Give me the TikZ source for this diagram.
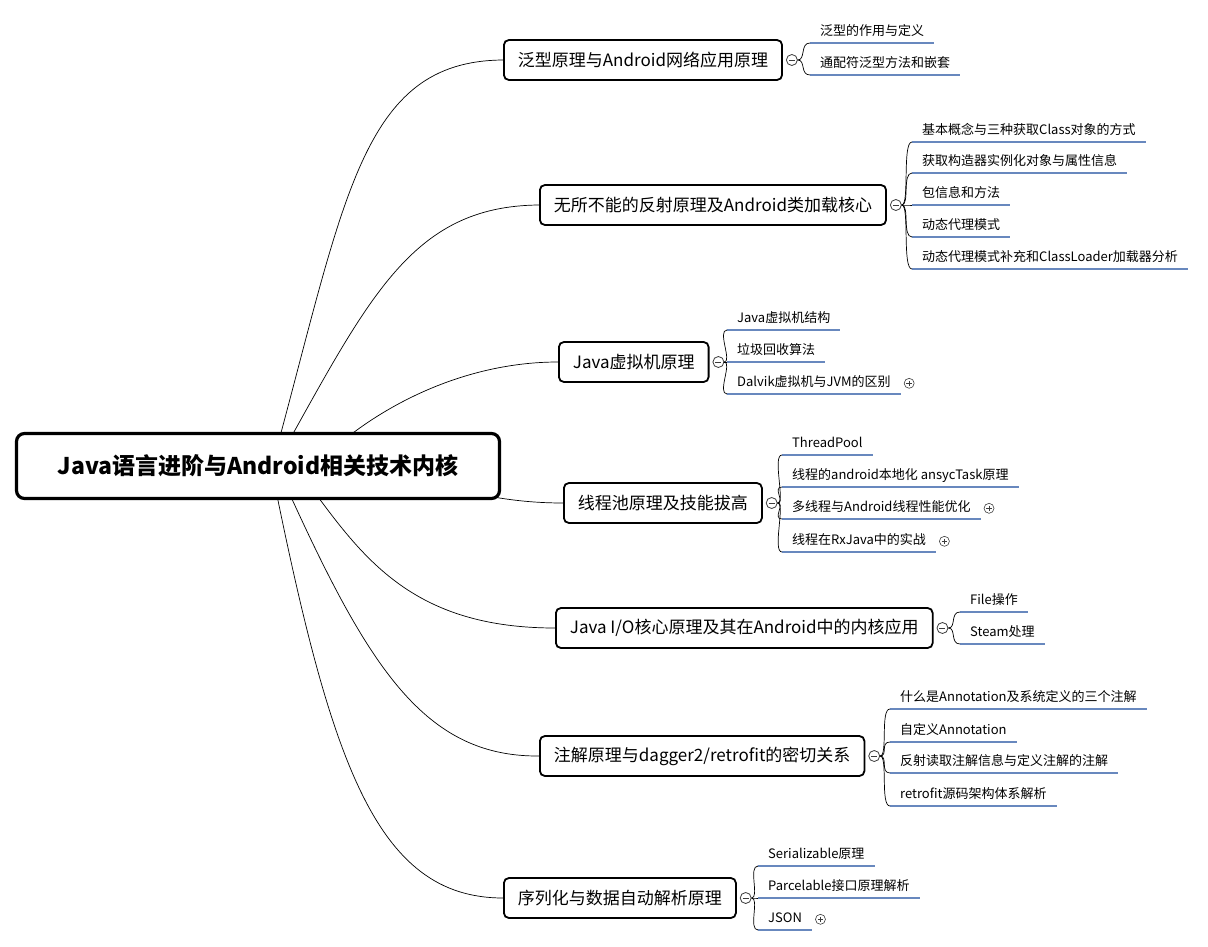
\documentclass[tikz,border=0pt]{standalone}
\usepackage{fontspec}
\setmainfont{Noto Sans CJK SC}
\definecolor{lineBlue}{RGB}{104,136,190}
\definecolor{foldGray}{RGB}{60,60,60}
\usepackage{tikz}
\usetikzlibrary{positioning}
\pgfdeclarelayer{background}
\pgfsetlayers{background,main}

\begin{document}
\begin{tikzpicture}[x=1pt,y=-1pt,
    rootbox/.style={draw, line width=3.2pt, rounded corners=8pt, fill=white,
        minimum width=483pt, minimum height=65pt, font=\fontsize{23}{27}\selectfont\bfseries},
    topic/.style={draw, line width=1.8pt, rounded corners=5pt, fill=white, anchor=west,
        minimum height=40pt, inner xsep=14pt, font=\fontsize{17}{20}\selectfont},
    sub/.style={anchor=south west, inner xsep=10pt, inner ysep=4pt, text height=10pt,
        text depth=3pt, font=\fontsize{13}{15}\selectfont},
    uline/.style={draw=lineBlue, line width=2.8pt},
    fold/.style={circle, draw=foldGray, line width=0.8pt, minimum size=11pt, inner sep=0pt, fill=white,
        path picture={\draw[foldGray, line width=0.7pt] ([xshift=2.5pt]path picture bounding box.west)
            -- ([xshift=-2.5pt]path picture bounding box.east);}},
    unfold/.style={circle, draw=foldGray, line width=0.6pt, minimum size=10pt, inner sep=0pt,
        path picture={\draw[foldGray, line width=0.6pt] ([xshift=2.2pt]path picture bounding box.west)
            -- ([xshift=-2.2pt]path picture bounding box.east)
            ([yshift=-2.2pt]path picture bounding box.north)
            -- ([yshift=2.2pt]path picture bounding box.south);}},
    twig/.style={line width=0.7pt, to path={.. controls +(8,0) and +(-10,0) .. (\tikztotarget)}},
    branch/.style={line width=0.7pt}]
                \useasboundingbox (0,0) rectangle (1208,947);

                \node[rootbox] (root) at (258,466) {Java语言进阶与Android相关技术内核};

                \node[topic] (b1) at (503,60) {泛型原理与Android网络应用原理};
                \node[topic] (b2) at (539,205) {无所不能的反射原理及Android类加载核心};
                \node[topic] (b3) at (558,362) {Java虚拟机原理};
                \node[topic] (b4) at (563,503) {线程池原理及技能拔高};
                \node[topic] (b5) at (555,628) {Java I/O核心原理及其在Android中的内核应用};
                \node[topic] (b6) at (539,756) {注解原理与dagger2/retrofit的密切关系};
                \node[topic] (b7) at (503,898) {序列化与数据自动解析原理};

                \begin{pgfonlayer}{background}
                \draw[branch] ([xshift=14pt]root.center) .. controls (345,200) and (360,61) .. (b1.west);
                \draw[branch] ([xshift=17pt]root.center) .. controls (368,300) and (410,206) .. (b2.west);
                \draw[branch] ([xshift=57pt]root.center) .. controls (370,410) and (460,362) .. (b3.west);
                \draw[branch] (root.center) .. controls (420,466) and (460,503) .. (b4.west);
                \draw[branch] ([xshift=37pt]root.center) .. controls (355,545) and (400,628) .. (b5.west);
                \draw[branch] ([xshift=19pt]root.center) .. controls (364,660) and (420,757) .. (b6.west);
                \draw[branch] ([xshift=13pt]root.center) .. controls (330,760) and (375,898) .. (b7.west);
                \end{pgfonlayer}

                \node[fold, right=3pt of b1] (c1) {};
                \node[fold, right=3pt of b2] (c2) {};
                \node[fold, right=3pt of b3] (c3) {};
                \node[fold, right=3pt of b4] (c4) {};
                \node[fold, right=3pt of b5] (c5) {};
                \node[fold, right=3pt of b6] (c6) {};
                \node[fold, right=3pt of b7] (c7) {};

                \node[sub] (s11) at (810,43) {泛型的作用与定义};
                \node[sub] (s12) at (810,75) {通配符泛型方法和嵌套};

                \node[sub] (s21) at (912,142) {基本概念与三种获取Class对象的方式};
                \node[sub] (s22) at (912,173) {获取构造器实例化对象与属性信息};
                \node[sub] (s23) at (912,205) {包信息和方法};
                \node[sub] (s24) at (912,237) {动态代理模式};
                \node[sub] (s25) at (912,269) {动态代理模式补充和ClassLoader加载器分析};

                \node[sub] (s31) at (727,330) {Java虚拟机结构};
                \node[sub] (s32) at (727,362) {垃圾回收算法};
                \node[sub] (s33) at (727,394) {Dalvik虚拟机与JVM的区别};

                \node[sub] (s41) at (782,455) {ThreadPool};
                \node[sub] (s42) at (782,487) {线程的android本地化 ansycTask原理};
                \node[sub] (s43) at (782,519) {多线程与Android线程性能优化};
                \node[sub] (s44) at (782,552) {线程在RxJava中的实战};

                \node[sub] (s51) at (960,612) {File操作};
                \node[sub] (s52) at (960,644) {Steam处理};

                \node[sub] (s61) at (890,709) {什么是Annotation及系统定义的三个注解};
                \node[sub] (s62) at (890,742) {自定义Annotation};
                \node[sub] (s63) at (890,773) {反射读取注解信息与定义注解的注解};
                \node[sub] (s64) at (890,806) {retrofit源码架构体系解析};

                \node[sub] (s71) at (758,866) {Serializable原理};
                \node[sub] (s72) at (758,898) {Parcelable接口原理解析};
                \node[sub] (s73) at (758,930) {JSON};

                \node[unfold, right=3pt of s33] (p33) {};
                \node[unfold, right=3pt of s43] (p43) {};
                \node[unfold, right=3pt of s44] (p44) {};
                \node[unfold, right=3pt of s73] (p73) {};

                \foreach \s in {s11,s12,s21,s22,s23,s24,s25,s31,s32,s33,s41,s42,s43,s44,
                    s51,s52,s61,s62,s63,s64,s71,s72,s73}
                    \draw[uline] (\s.south west) -- (\s.south east);

                \foreach \s in {s11,s12} \draw[twig] (c1.east) to (\s.south west);
                \foreach \s in {s21,s22,s23,s24,s25} \draw[twig] (c2.east) to (\s.south west);
                \foreach \s in {s31,s32,s33} \draw[twig] (c3.east) to (\s.south west);
                \foreach \s in {s41,s42,s43,s44} \draw[twig] (c4.east) to (\s.south west);
                \foreach \s in {s51,s52} \draw[twig] (c5.east) to (\s.south west);
                \foreach \s in {s61,s62,s63,s64} \draw[twig] (c6.east) to (\s.south west);
                \foreach \s in {s71,s72,s73} \draw[twig] (c7.east) to (\s.south west);

            \end{tikzpicture}
\end{document}
